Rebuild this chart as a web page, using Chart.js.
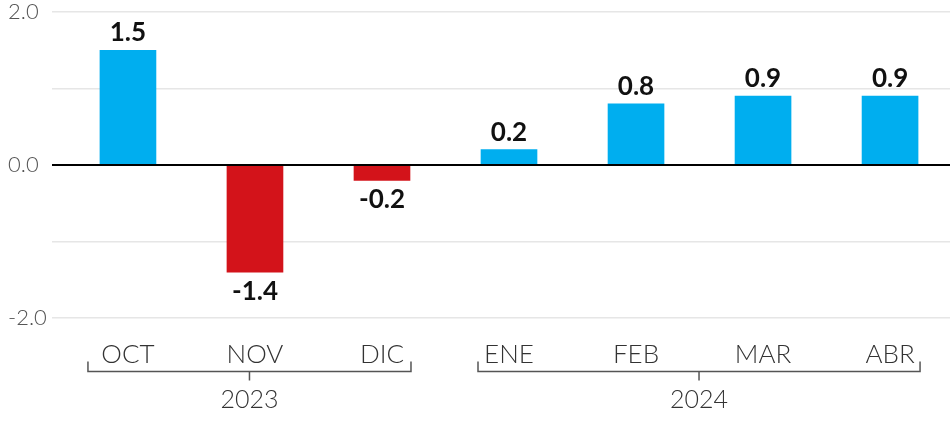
<!DOCTYPE html>
<html>
<head>
<meta charset="utf-8">
<script src="https://cdn.jsdelivr.net/npm/chart.js@4.4.1/dist/chart.umd.min.js"></script>
<style>
  html, body { margin: 0; padding: 0; background: #fff; }
  #wrap { width: 950px; height: 423px; position: relative; }
</style>
</head>
<body>
<div id="wrap"><canvas id="chart"></canvas></div>
<script>
const months = ['OCT', 'NOV', 'DIC', 'ENE', 'FEB', 'MAR', 'ABR'];
const values = [1.5, -1.4, -0.2, 0.2, 0.8, 0.9, 0.9];
const years = ['2023', '2024'];
const yearFirst = [0, 3]; // first month index of each year
const yearLast = [2, 6];  // last month index of each year
const yTickLabels = [-2, 0, 2];

const BLUE = '#00aeef';
const RED = '#d3131a';
const FONT = 'Lato';

// value labels above / below each bar
const valueLabels = {
  id: 'valueLabels',
  afterDatasetsDraw(chart) {
    const { ctx, scales: { y } } = chart;
    const zero = y.getPixelForValue(0);
    // zero line sits on top of the bars
    ctx.save();
    ctx.strokeStyle = '#000';
    ctx.lineWidth = 2;
    ctx.beginPath();
    ctx.moveTo(chart.chartArea.left, zero);
    ctx.lineTo(chart.chartArea.right, zero);
    ctx.stroke();

    ctx.font = `bold 26px ${FONT}`;
    ctx.fillStyle = '#111';
    ctx.textAlign = 'center';
    ctx.textBaseline = 'alphabetic';
    chart.getDatasetMeta(0).data.forEach((bar, i) => {
      const v = values[i];
      const ty = v >= 0 ? bar.y - 9 : bar.y + 28;
      ctx.fillText(v.toFixed(1), bar.x, ty);
    });
    ctx.restore();
  }
};

// year brackets under the month labels
const yearBrackets = {
  id: 'yearBrackets',
  afterDraw(chart, args, opts) {
    const { ctx, chartArea, scales: { x } } = chart;
    const lineY = chartArea.bottom + 53.5;
    ctx.save();
    ctx.strokeStyle = '#555';
    ctx.lineWidth = 1.5;
    ctx.fillStyle = '#333';
    ctx.font = `300 25px ${FONT}`;
    ctx.textAlign = 'center';
    ctx.textBaseline = 'alphabetic';
    years.forEach((yr, g) => {
      const l = x.getPixelForValue(yearFirst[g]) - opts.padLeft[g];
      const r = x.getPixelForValue(yearLast[g]) + opts.padRight[g];
      const mid = (l + r) / 2;
      ctx.beginPath();
      ctx.moveTo(l, lineY - 10);
      ctx.lineTo(l, lineY);
      ctx.lineTo(r, lineY);
      ctx.lineTo(r, lineY - 10);
      ctx.moveTo(mid, lineY);
      ctx.lineTo(mid, lineY + 9);
      ctx.stroke();
      ctx.fillText(yr, mid, lineY + 36);
    });
    ctx.restore();
  }
};

new Chart(document.getElementById('chart'), {
  type: 'bar',
  data: {
    datasets: [{
      data: values.map((v, i) => ({ x: i, y: v })),
      backgroundColor: values.map(v => v >= 0 ? BLUE : RED),
      barThickness: 56
    }]
  },
  plugins: [valueLabels, yearBrackets],
  options: {
    responsive: true,
    maintainAspectRatio: false,
    animation: false,
    layout: { padding: { left: 8, top: 12, right: 0, bottom: 0 } },
    plugins: {
      legend: { display: false },
      tooltip: { enabled: false },
      yearBrackets: { padLeft: [40, 31], padRight: [29, 30] }
    },
    scales: {
      x: {
        type: 'linear',
        offset: false,
        min: -0.598,
        max: 6.472,
        grid: { display: false },
        border: { display: false },
        afterFit: s => { s.height = 105; },
        afterBuildTicks: s => { s.ticks = months.map((m, i) => ({ value: i })); },
        ticks: {
          autoSkip: false,
          maxRotation: 0,
          padding: 13,
          color: '#333',
          font: { family: FONT, size: 26, weight: '300' },
          callback: v => months[v] || ''
        }
      },
      y: {
        min: -2,
        max: 2,
        afterFit: s => { s.width = 44; },
        border: { display: false },
        grid: {
          drawTicks: false,
          color: c => c.tick.value === 0 ? '#000' : '#e6e6e6',
          lineWidth: c => c.tick.value === 0 ? 2 : 1.5
        },
        ticks: {
          stepSize: 1,
          crossAlign: 'far',
          padding: 0,
          color: '#555',
          font: { family: FONT, size: 22, weight: '300', lineHeight: 1 },
          callback: v => yTickLabels.includes(v) ? v.toFixed(1) : ''
        }
      }
    }
  }
});
</script>
</body>
</html>
